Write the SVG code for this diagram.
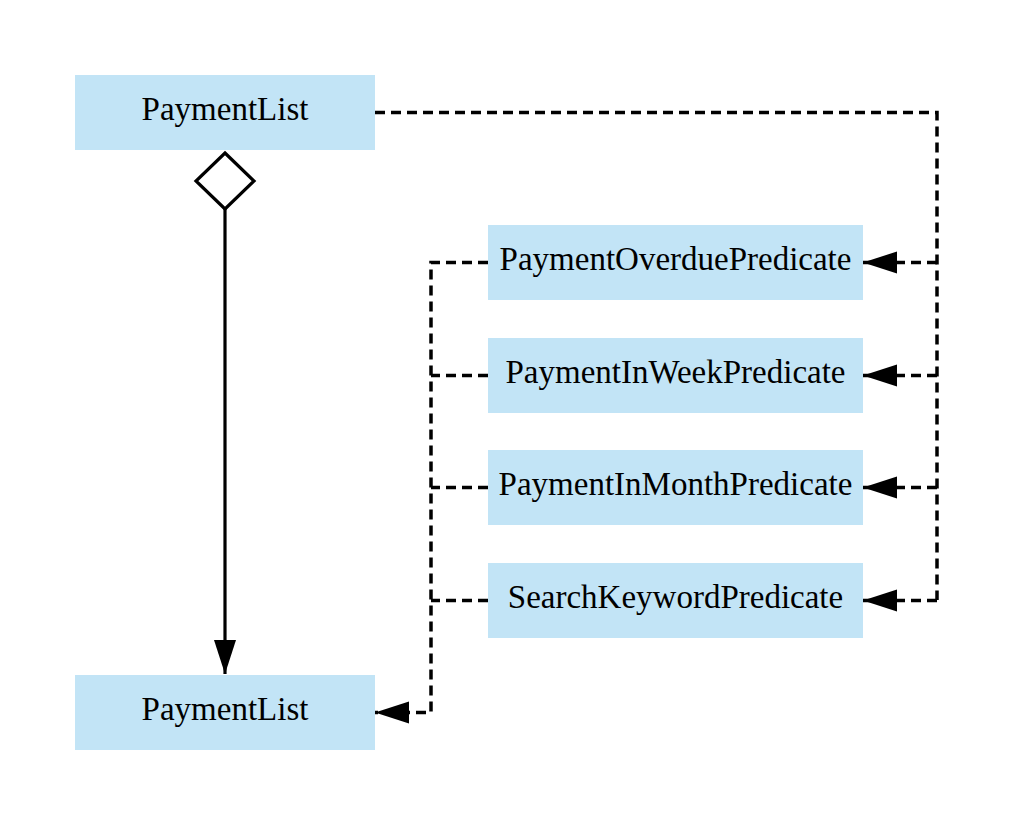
<svg xmlns="http://www.w3.org/2000/svg" width="1013" height="825" viewBox="0 0 1013 825">
<style>
.box{fill:#c2e4f6}
.lbl{font-family:"Liberation Serif","Times New Roman",serif;font-size:33px;fill:#000;text-anchor:middle}
.dash{fill:none;stroke:#000;stroke-width:3.5;stroke-dasharray:10 6}
.solid{fill:none;stroke:#000;stroke-width:3.2}
</style>
<defs>
<marker id="arr" markerUnits="userSpaceOnUse" markerWidth="36" markerHeight="24" refX="34" refY="12" orient="auto">
<path d="M0,1 L34,12 L0,23 Z" fill="#000"/>
</marker>
</defs>
<rect width="1013" height="825" fill="#fff"/>
<g id="connectors">
<path class="solid" d="M225,209 L225,674" marker-end="url(#arr)"/>
<path class="solid" d="M225,153 L254,181 L225,209 L196,181 Z" fill="#fff"/>
<path class="dash" d="M375,112.5 L937,112.5 L937,600"/>
<path class="dash" d="M937,262.5 L863,262.5" marker-end="url(#arr)"/>
<path class="dash" d="M937,375.5 L863,375.5" marker-end="url(#arr)"/>
<path class="dash" d="M937,487.5 L863,487.5" marker-end="url(#arr)"/>
<path class="dash" d="M937,600.5 L863,600.5" marker-end="url(#arr)"/>
<path class="dash" d="M488,262.5 L431,262.5 L431,712.5 L375,712.5" marker-end="url(#arr)"/>
<path class="dash" d="M488,375.5 L431,375.5"/>
<path class="dash" d="M488,487.5 L431,487.5"/>
<path class="dash" d="M488,600.5 L431,600.5"/>
</g>
<g id="paymentlist-top"><rect class="box" x="75" y="75" width="300" height="75"/><text class="lbl" x="225" y="119.5">PaymentList</text></g>
<g id="paymentlist-bottom"><rect class="box" x="75" y="675" width="300" height="75"/><text class="lbl" x="225" y="719.5">PaymentList</text></g>
<g id="overdue"><rect class="box" x="488" y="225" width="375" height="75"/><text class="lbl" x="675.5" y="269.5">PaymentOverduePredicate</text></g>
<g id="inweek"><rect class="box" x="488" y="338" width="375" height="75"/><text class="lbl" x="675.5" y="382.5">PaymentInWeekPredicate</text></g>
<g id="inmonth"><rect class="box" x="488" y="450" width="375" height="75"/><text class="lbl" x="675.5" y="494.5">PaymentInMonthPredicate</text></g>
<g id="search"><rect class="box" x="488" y="563" width="375" height="75"/><text class="lbl" x="675.5" y="607.5">SearchKeywordPredicate</text></g>
</svg>
